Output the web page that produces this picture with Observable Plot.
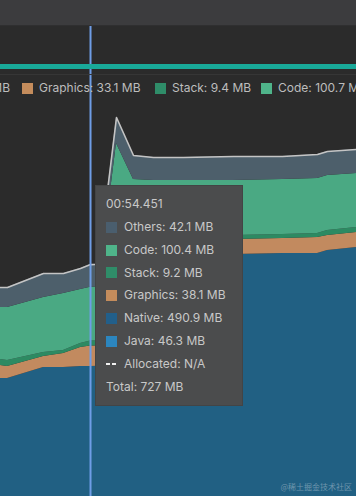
<!DOCTYPE html>
<html>
<head>
<meta charset="utf-8">
<script src="https://cdn.jsdelivr.net/npm/d3@7"></script>
<script src="https://cdn.jsdelivr.net/npm/@observablehq/plot@0.6"></script>
<style>
  html, body { margin: 0; padding: 0; background: #2b2b2b; }
  #root { position: relative; width: 356px; height: 496px; overflow: hidden; background: #2b2b2b;
          font-family: Inter, "Liberation Sans", Arial, sans-serif; }
  #chart { position: absolute; left: 0; top: 0; width: 356px; height: 496px; overflow: hidden; }
  #chart svg { overflow: hidden; }
  .topbar { position: absolute; left: 0; top: 0; width: 356px; height: 25px; background: #3c3c3e; border-bottom: 1px solid #2f2f30; }
  .teal { position: absolute; left: 0; top: 64px; width: 356px; height: 5px; background: #19a999; }
  .sep { position: absolute; left: 0; top: 74px; width: 356px; height: 1px; background: #363636; }
  .lg { position: absolute; font-size: 12px; line-height: 14px; color: #bdbdbd; white-space: nowrap; top: 81px; }
  .sw { position: absolute; width: 11px; height: 11px; top: 83px; }
  .tip { position: absolute; left: 95px; top: 185px; width: 148px; height: 221px; background: #4b4c4d;
         border: 1px solid #434445; box-sizing: border-box; padding: 7px 0 0 10px; color: #c8c8c8; font-size: 12px; }
  .row { height: 22.85px; line-height: 22.85px; display: flex; align-items: center; white-space: nowrap; }
  .row .s { width: 11px; height: 11px; margin-right: 7px; flex: none; }
  .row .dash { width: 11px; height: 11px; margin-right: 7px; flex: none; position: relative; }
  .row .dash i { position: absolute; top: 4px; width: 4px; height: 2.5px; background: #f0f0f0; }
  .wm { position: absolute; right: 4px; top: 482px; font-size: 8px; line-height: 10px; color: rgba(255,255,255,0.35);
        font-family: "Noto Sans CJK SC", sans-serif; }
</style>
</head>
<body>
<div id="root">
  <div id="chart"></div>
  <div class="topbar"></div>
  <div class="teal"></div>
  <div class="sep"></div>
  <div id="legend"></div>
  <div class="tip" id="tip"></div>
  <div class="wm">@稀土掘金技术社区</div>
</div>
<script>
// ---- data (seconds, MB) ----
const times    = [49.95, 50.30, 52.10, 53.10, 53.95, 54.451, 54.85, 55.75, 56.60, 57.60, 59.10, 61.60, 64.05, 65.80, 66.30, 67.75];
const java     = [45.8, 45.8, 46.0, 46.0, 46.2, 46.3, 46.3, 46.3, 46.3, 46.3, 46.3, 46.3, 46.3, 46.3, 46.3, 46.3];
const native   = [469.1, 469.1, 489.4, 489.4, 491.0, 490.9, 491.2, 699.5, 699.5, 699.5, 699.5, 699.5, 701.4, 701.4, 707.0, 712.5];
const graphics = [24.2, 22.3, 20.5, 26.0, 35.4, 38.1, 38.0, 26.1, 26.1, 26.1, 26.1, 27.9, 27.9, 29.7, 27.9, 28.0];
const stack    = [11.2, 11.2, 7.4, 5.6, 7.4, 9.2, 9.2, 7.4, 7.4, 7.4, 7.4, 7.5, 7.5, 7.5, 9.3, 9.3];
const code     = [96.8, 98.7, 102.4, 106.2, 100.6, 100.4, 100.6, 173.2, 106.2, 104.3, 104.3, 102.4, 102.4, 102.4, 102.4, 100.5];
const others   = [37.3, 37.3, 44.7, 37.2, 39.1, 42.1, 42.3, 48.4, 44.7, 42.8, 42.8, 44.7, 42.8, 44.7, 44.7, 44.7];

const categories = ["Java", "Native", "Graphics", "Stack", "Code", "Others"];
const areaColors = ["#2e86bd", "#216083", "#c28a5f", "#2d8a62", "#4aa983", "#4d5f6b"];
const swatchColors = {Others: "#4a5e6e", Code: "#4fb48a", Stack: "#2f8d69", Graphics: "#c48c5c", Native: "#225f8a", Java: "#2c86bf"};

const cursorTime = 54.451;
const cursorLabel = "00:54.451";

// header legend row (live values)
const legendItems = ["Graphics", "Stack", "Code"];
const legendValues = [33.1, 9.4, 100.7];

// ---- build table ----
const series = {Java: java, Native: native, Graphics: graphics, Stack: stack, Code: code, Others: others};
const table = [];
times.forEach((t, i) => categories.forEach(c => table.push({t, cat: c, mb: series[c][i]})));
const totals = times.map((t, i) => ({t, total: d3.sum(categories, c => series[c][i])}));

const plot = Plot.plot({
  width: 356,
  height: 496,
  margin: 0,
  x: {type: "linear", domain: [49.95, 67.75], range: [0, 356], axis: null},
  y: {domain: [0, 1000], range: [654.5, 117.5], axis: null},
  color: {domain: categories, range: areaColors},
  style: {background: "transparent", overflow: "hidden"},
  marks: [
    Plot.areaY(table, {x: "t", y: "mb", z: "cat", fill: "cat", order: categories, clip: true}),
    Plot.lineY(totals, {x: "t", y: "total", stroke: "#c4c4c4", strokeWidth: 1.6, clip: true}),
    Plot.ruleX([cursorTime], {stroke: "#6f9de6", strokeWidth: 2})
  ]
});
document.getElementById("chart").appendChild(plot);

// ---- header legend row ----
const lg = document.getElementById("legend");
const cut = document.createElement("div");
cut.className = "lg"; cut.style.right = (356 - 10) + "px"; cut.textContent = "MB";
lg.appendChild(cut);
const swLeft = [22, 155, 261];
legendItems.forEach((name, i) => {
  const sw = document.createElement("div");
  sw.className = "sw"; sw.style.left = swLeft[i] + "px"; sw.style.background = swatchColors[name];
  lg.appendChild(sw);
  const tx = document.createElement("div");
  tx.className = "lg"; tx.style.left = (swLeft[i] + 17) + "px";
  tx.textContent = `${name}: ${legendValues[i]} MB`;
  lg.appendChild(tx);
});

// ---- tooltip ----
const ci = times.indexOf(cursorTime);
const tip = document.getElementById("tip");
const addRow = (html) => { const r = document.createElement("div"); r.className = "row"; r.innerHTML = html; tip.appendChild(r); };
addRow(cursorLabel);
["Others", "Code", "Stack", "Graphics", "Native", "Java"].forEach(c => {
  addRow(`<span class="s" style="background:${swatchColors[c]}"></span>${c}: ${series[c][ci].toFixed(1)} MB`);
});
addRow(`<span class="dash"><i style="left:0"></i><i style="left:6px"></i></span>Allocated: N/A`);
addRow(`Total: ${Math.round(d3.sum(categories, c => series[c][ci]))} MB`);
</script>
</body>
</html>
